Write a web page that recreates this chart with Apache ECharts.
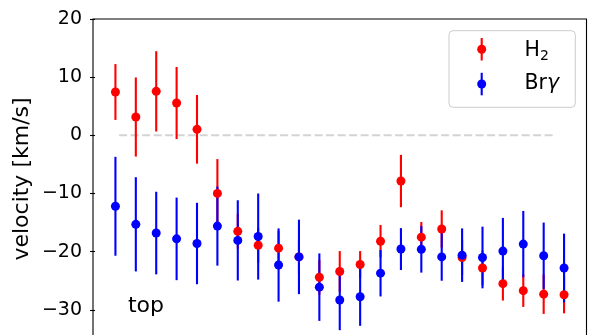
<!DOCTYPE html>
<html>
<head>
<meta charset="utf-8">
<script src="https://cdn.jsdelivr.net/npm/echarts@6/dist/echarts.min.js"></script>
<style>
html,body{margin:0;padding:0;background:#fff;}
#chart{width:598px;height:335px;}
</style>
</head>
<body>
<div id="chart"></div>
<script>
// ---- data ----
var positions = [1,2,3,4,5,6,7,8,9,10,11,12,13,14,15,16,17,18,19,20,21,22,23];
var h2Velocity = [7.45,3.15,7.56,5.55,1.03,-9.98,-16.5,-18.9,-19.4,-20.9,-24.4,-23.4,-22.2,-18.2,-7.86,-17.5,-16.1,-21.0,-22.8,-25.5,-26.7,-27.3,-27.4];
var h2Error    = [4.8,6.8,6.9,6.2,5.9,5.9,3.0,3.0,3.0,3.0,3.0,3.5,2.3,2.8,4.5,2.6,3.2,3.0,3.0,2.9,2.8,3.4,3.2];
var brgVelocity = [-12.2,-15.3,-16.8,-17.8,-18.6,-15.6,-18.06,-17.4,-22.3,-20.9,-26.1,-28.3,-27.75,-23.7,-19.55,-19.6,-20.9,-20.6,-21.0,-19.9,-18.7,-20.7,-22.8];
var brgError    = [8.5,8.1,7.1,7.1,7.0,6.8,6.9,7.4,6.3,6.4,5.8,5.2,5.0,4.0,3.6,4.0,4.1,4.6,5.3,5.7,5.7,5.7,5.9];
var zeroLineX = [1.18, 22.5];
var yTicks = [20, 10, 0, -10, -20, -30];

function triples(v, e) {
  return positions.map(function (x, i) { return [x, v[i], e[i]]; });
}
function pairs(v) {
  return positions.map(function (x, i) { return [x, v[i]]; });
}
function errRender(color) {
  return function (params, api) {
    var x = api.value(0), y = api.value(1), e = api.value(2);
    var p1 = api.coord([x, y - e]);
    var p2 = api.coord([x, y + e]);
    return {
      type: 'line',
      shape: { x1: p1[0], y1: p1[1], x2: p2[0], y2: p2[1] },
      style: { stroke: color, lineWidth: 2.1 }
    };
  };
}

var chart = echarts.init(document.getElementById('chart'), null, { renderer: 'canvas' });
var FONT = 'DejaVu Sans';
var option = {
  animation: false,
  backgroundColor: '#ffffff',
  grid: {
    left: 93, top: 19, width: 493.5, height: 349,
    outerBoundsMode: 'none', containLabel: false,
    show: true, borderColor: '#000', borderWidth: 1.1, backgroundColor: 'transparent'
  },
  xAxis: { type: 'value', min: -0.1, max: 24.1, show: false },
  yAxis: {
    type: 'value', min: -40, max: 20, interval: 10,
    axisLine: { show: false },
    axisTick: { show: true, inside: false, length: 5, lineStyle: { color: '#000', width: 1.1 } },
    splitLine: { show: false },
    axisLabel: {
      margin: 11, color: '#000', fontFamily: FONT, fontSize: 19,
      formatter: function (v) {
        if (yTicks.indexOf(v) < 0) return '';
        return v < 0 ? '\u2212' + Math.abs(v) : String(v);
      }
    }
  },
  series: [
    {
      type: 'line', data: zeroLineX.map(function (x) { return [x, 0]; }),
      symbol: 'none', z: 1, silent: true,
      lineStyle: { color: '#d3d3d3', width: 2, type: [8, 3.5] }
    },
    { type: 'custom', name: 'H2err', data: triples(h2Velocity, h2Error), renderItem: errRender('#ff0000'), z: 2 },
    { type: 'custom', name: 'Brgerr', data: triples(brgVelocity, brgError), renderItem: errRender('#0000ff'), z: 2 },
    { type: 'scatter', name: 'H2', data: pairs(h2Velocity), symbol: 'circle', symbolSize: 9, itemStyle: { color: '#ff0000', opacity: 1 }, z: 3 },
    { type: 'scatter', name: 'Brg', data: pairs(brgVelocity), symbol: 'circle', symbolSize: 9, itemStyle: { color: '#0000ff', opacity: 1 }, z: 4 }
  ],
  graphic: [
    {
      type: 'text', x: 22, y: 179, rotation: Math.PI / 2,
      style: { text: 'velocity [km/s]', fontFamily: FONT, fontSize: 22, fill: '#000', align: 'center', verticalAlign: 'middle' }
    },
    {
      type: 'text', x: 146, y: 306,
      style: { text: 'top', fontFamily: FONT, fontSize: 22, fill: '#000', align: 'center', verticalAlign: 'middle' }
    },
    {
      type: 'rect', x: 449, y: 30.7, z: 10,
      shape: { width: 126.3, height: 76.6, r: 4 },
      style: { fill: 'rgba(255,255,255,0.8)', stroke: '#cccccc', lineWidth: 1 }
    },
    { type: 'line', z: 11, shape: { x1: 481.7, y1: 38, x2: 481.7, y2: 60.5 }, style: { stroke: '#ff0000', lineWidth: 2.1 } },
    { type: 'circle', z: 11, shape: { cx: 481.7, cy: 49.3, r: 4.5 }, style: { fill: '#ff0000' } },
    { type: 'line', z: 11, shape: { x1: 481.7, y1: 72.8, x2: 481.7, y2: 95.3 }, style: { stroke: '#0000ff', lineWidth: 2.1 } },
    { type: 'circle', z: 11, shape: { cx: 481.7, cy: 84, r: 4.5 }, style: { fill: '#0000ff' } },
    {
      type: 'text', z: 11, x: 524.5, y: 50.5,
      style: { text: 'H', fontFamily: FONT, fontSize: 20.5, fill: '#000', align: 'left', verticalAlign: 'middle' }
    },
    {
      type: 'text', z: 11, x: 540, y: 56.8,
      style: { text: '2', fontFamily: FONT, fontSize: 14, fill: '#000', align: 'left', verticalAlign: 'middle' }
    },
    {
      type: 'text', z: 11, x: 524.5, y: 84,
      style: {
        text: 'Br{g|\u03b3}', fontFamily: FONT, fontSize: 20.5, fill: '#000', align: 'left', verticalAlign: 'middle',
        rich: { g: { fontFamily: FONT, fontSize: 20.5, fontStyle: 'italic', fill: '#000' } }
      }
    }
  ]
};
chart.setOption(option);
</script>
</body>
</html>
